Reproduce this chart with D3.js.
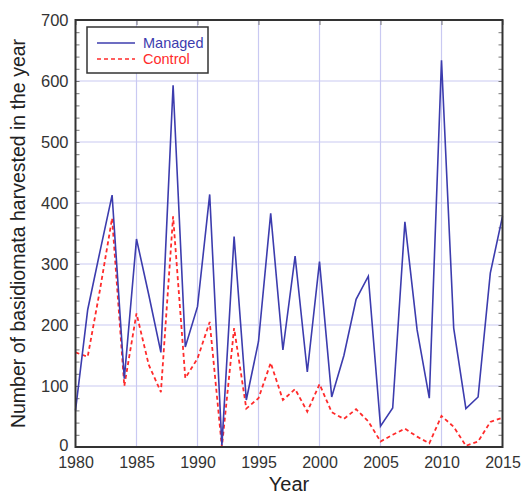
<!DOCTYPE html>
<html>
<head>
<meta charset="utf-8">
<script src="https://cdn.jsdelivr.net/npm/d3@7"></script>
<style>
  body { margin: 0; background: #fff; }
  text { font-family: "Liberation Sans", Arial, sans-serif; }
</style>
</head>
<body>
<div id="chart"></div>
<script>
// data
const years = d3.range(1980, 2016)
const managed = [60, 225, 320, 413, 112, 341, 250, 155, 593, 164, 230, 414, 3, 345, 77, 173, 383, 159, 313, 123, 304, 82, 150, 242, 280, 34, 64, 369, 192, 80, 634, 195, 63, 82, 285, 378]
const control = [155, 148, 257, 375, 100, 219, 135, 90, 378, 113, 145, 205, 0, 195, 63, 80, 138, 77, 95, 58, 103, 57, 46, 62, 42, 9, 20, 30, 17, 6, 51, 33, 2, 9, 41, 48]
const xTicks = [1980, 1985, 1990, 1995, 2000, 2005, 2010, 2015]
const yTicks = [0, 100, 200, 300, 400, 500, 600, 700]

const MARGIN = {TOP: 20, BOTTOM: 49, LEFT: 75.5, RIGHT: 20.5}
const W = 523, H = 496
const WIDTH = W - MARGIN.LEFT - MARGIN.RIGHT
const HEIGHT = H - MARGIN.TOP - MARGIN.BOTTOM

const BLUE = '#3c3cae'
const RED = '#ff2b2b'
const GRID = '#c9c9f2'
const FRAME = '#333'

const svg = d3.select('#chart').append('svg')
  .attr('width', W)
  .attr('height', H)

const g = svg.append('g')
  .attr('transform', `translate(${MARGIN.LEFT}, ${MARGIN.TOP})`)

const x = d3.scaleLinear().domain([1980, 2015]).range([0, WIDTH])
const y = d3.scaleLinear().domain([0, 700]).range([HEIGHT, 0])

// grid
g.append('g').selectAll('line')
  .data(xTicks.slice(1, -1))
  .join('line')
    .attr('x1', d => x(d)).attr('x2', d => x(d))
    .attr('y1', 0).attr('y2', HEIGHT)
    .attr('stroke', GRID).attr('stroke-width', 1.2)

g.append('g').selectAll('line')
  .data(yTicks.slice(1, -1))
  .join('line')
    .attr('x1', 0).attr('x2', WIDTH)
    .attr('y1', d => y(d)).attr('y2', d => y(d))
    .attr('stroke', GRID).attr('stroke-width', 1.2)

// minor ticks on y, both sides, inside
const minor = d3.range(0, 701, 20)
g.append('g').call(d3.axisLeft(y).tickValues(minor).tickSize(-4).tickFormat(''))
  .call(a => a.select('.domain').remove())
  .selectAll('line').attr('stroke', '#777')
g.append('g').attr('transform', `translate(${WIDTH}, 0)`)
  .call(d3.axisRight(y).tickValues(minor).tickSize(-4).tickFormat(''))
  .call(a => a.select('.domain').remove())
  .selectAll('line').attr('stroke', '#777')
g.append('g').call(d3.axisTop(x).tickValues(xTicks).tickSize(-5).tickFormat(''))
  .call(a => a.select('.domain').remove())
  .selectAll('line').attr('stroke', '#777')

// lines
const line = d3.line().x((d, i) => x(years[i])).y(d => y(d))

g.append('path')
  .datum(control)
  .attr('fill', 'none')
  .attr('stroke', RED)
  .attr('stroke-width', 1.8)
  .attr('stroke-dasharray', '4,3')
  .attr('d', line)

g.append('path')
  .datum(managed)
  .attr('fill', 'none')
  .attr('stroke', BLUE)
  .attr('stroke-width', 1.6)
  .attr('d', line)

// frame
g.append('rect')
  .attr('width', WIDTH).attr('height', HEIGHT)
  .attr('fill', 'none').attr('stroke', FRAME).attr('stroke-width', 2)

// tick labels
const xAxis = g.append('g').attr('transform', `translate(0, ${HEIGHT})`)
  .call(d3.axisBottom(x).tickValues(xTicks).tickSize(0).tickPadding(10).tickFormat(d3.format('d')))
xAxis.select('.domain').remove()
xAxis.selectAll('text').attr('font-size', 16).attr('fill', '#333')
  .attr('font-family', '"Liberation Sans", Arial, sans-serif')

const yAxis = g.append('g')
  .call(d3.axisLeft(y).tickValues(yTicks).tickSize(0).tickPadding(7))
yAxis.select('.domain').remove()
yAxis.selectAll('text').attr('font-size', 16.5).attr('fill', '#333')
  .attr('font-family', '"Liberation Sans", Arial, sans-serif')
  .attr('dy', d => d === 0 ? '0.2em' : '0.32em')

// axis titles
svg.append('text')
  .attr('x', MARGIN.LEFT + WIDTH / 2)
  .attr('y', 491)
  .attr('text-anchor', 'middle')
  .attr('font-size', 20)
  .attr('fill', '#222')
  .text('Year')

svg.append('text')
  .attr('transform', `translate(25, ${MARGIN.TOP + HEIGHT / 2}) rotate(-90)`)
  .attr('text-anchor', 'middle')
  .attr('font-size', 19.5)
  .attr('fill', '#222')
  .text('Number of basidiomata harvested in the year')

// legend
const legend = svg.append('g').attr('transform', 'translate(87, 27)')
legend.append('rect')
  .attr('width', 121).attr('height', 46)
  .attr('fill', '#fff').attr('stroke', FRAME).attr('stroke-width', 1.5)

const legendItems = [
  {name: 'Managed', color: BLUE, dash: null},
  {name: 'Control', color: RED, dash: '4,3'}
]
legendItems.forEach((d, i) => {
  const row = legend.append('g').attr('transform', `translate(0, ${16 + i * 16})`)
  row.append('line')
    .attr('x1', 10).attr('x2', 48)
    .attr('stroke', d.color).attr('stroke-width', 1.5)
    .attr('stroke-dasharray', d.dash)
  row.append('text')
    .attr('x', 56).attr('y', 5)
    .attr('font-size', 14.5)
    .attr('fill', d.color)
    .text(d.name)
})
</script>
</body>
</html>
